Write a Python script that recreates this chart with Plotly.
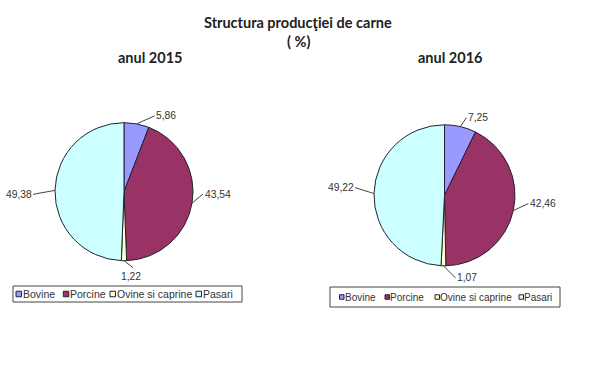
import math
import plotly.graph_objects as go

# ---- data ----
categories = ["Bovine", "Porcine", "Ovine si caprine", "Pasari"]
year_titles = ["anul 2015", "anul 2016"]
values_2015 = [5.86, 43.54, 1.22, 49.38]
values_2016 = [7.25, 42.46, 1.07, 49.22]
colors = ["#9999FF", "#993366", "#FFFFCC", "#CCFFFF"]
main_title = "Structura producţiei de carne"
sub_title = "( %)"

# the page body margin is removed (post_script below), so the figure fills the window
OFF = 0
W, H = 600, 371


def X(px):
    return (px - OFF) / W


def Y(py):
    return 1 - (py - OFF) / H


# layout / style (pixel positions of pies, leader-line offsets, legend boxes)
layouts = [
    dict(values=values_2015, cx=124, cy=191.7, r=69, tx=150,
         label_offsets=[(18, -8, "left"), (11, -9, "left"), (9, 7, "below"), (-22, 4, "right")],
         box=(13, 242, 286, 302), sq=[16, 63.3, 110, 196], sqsize=5.5, gap=6.5, ly=294,
         legend_font=10.5),
    dict(values=values_2016, cx=444.5, cy=195.3, r=70.5, tx=450,
         label_offsets=[(6, -9, "left"), (15, -7, "left"), (12, 12, "left"), (-19, -6, "right")],
         box=(330, 560, 287, 307), sq=[339.5, 385, 435, 519], sqsize=4.5, gap=5, ly=297,
         legend_font=10),
]

fig = go.Figure()
shapes = []
annotations = []

LABEL_FONT = dict(family="Liberation Sans, Arial, sans-serif", size=10.3, color="#333333")
TITLE_FONT = dict(family="Lato, Open Sans, sans-serif", size=14.5, color="#222222")
LEADER = dict(color="#444444", width=1)

for i, L in enumerate(layouts):
    vals = L["values"]
    cx, cy, r = L["cx"], L["cy"], L["r"]
    fig.add_trace(go.Pie(
        labels=categories, values=vals, sort=False, direction="clockwise", rotation=0,
        marker=dict(colors=colors, line=dict(color="#222233", width=1)),
        textinfo="none", showlegend=False, hoverinfo="label+value",
        domain=dict(x=[X(cx - r), X(cx + r)], y=[Y(cy + r), Y(cy - r)]),
    ))
    total = sum(vals)
    cum = 0.0
    for k, v in enumerate(vals):
        mid = (cum + v / 2) / total
        cum += v
        ang = 2 * math.pi * mid
        e = (cx + r * math.sin(ang), cy - r * math.cos(ang))
        ox, oy, mode = L["label_offsets"][k]
        p = (e[0] + ox, e[1] + oy)
        txt = f"{v:.2f}".replace(".", ",")
        shapes.append(dict(type="line", xref="paper", yref="paper",
                           x0=X(e[0]), y0=Y(e[1]), x1=X(p[0]), y1=Y(p[1]), line=LEADER))
        if mode == "below":
            annotations.append(dict(x=X(p[0] - 2), y=Y(p[1] + 3), xref="paper", yref="paper",
                                    text=txt, showarrow=False, xanchor="center", yanchor="top",
                                    borderpad=0, borderwidth=0, font=LABEL_FONT))
        else:
            side = 1 if mode == "left" else -1
            annotations.append(dict(x=X(p[0] + side * 1.5), y=Y(p[1]), xref="paper", yref="paper",
                                    text=txt, showarrow=False, xanchor=mode, yanchor="middle",
                                    borderpad=0, borderwidth=0, font=LABEL_FONT))
    # year title
    annotations.append(dict(x=X(L["tx"]), y=Y(57.5), xref="paper", yref="paper",
                            text=f"<b>{year_titles[i]}</b>", showarrow=False,
                            xanchor="center", yanchor="middle", font=TITLE_FONT))
    # legend box
    x0, x1, y0, y1 = L["box"]
    shapes.append(dict(type="rect", xref="paper", yref="paper",
                       x0=X(x0), x1=X(x1), y0=Y(y1), y1=Y(y0),
                       line=dict(color="#444444", width=1), fillcolor="white", layer="below"))
    sz = L["sqsize"]
    for j, cat in enumerate(categories):
        sx = L["sq"][j]
        ly = L["ly"]
        shapes.append(dict(type="rect", xref="paper", yref="paper",
                           x0=X(sx), x1=X(sx + sz), y0=Y(ly + sz / 2), y1=Y(ly - sz / 2),
                           line=dict(color="#222233", width=1), fillcolor=colors[j]))
        annotations.append(dict(x=X(sx + L["gap"]), y=Y(ly), xref="paper", yref="paper",
                                text=cat, showarrow=False, xanchor="left", yanchor="middle",
                                borderpad=0, borderwidth=0,
                                font=dict(family="Liberation Sans, Arial, sans-serif",
                                          size=L["legend_font"], color="#333333")))

annotations.append(dict(x=X(298), y=Y(22), xref="paper", yref="paper",
                        text=f"<b>{main_title}</b>", showarrow=False,
                        xanchor="center", yanchor="middle", font=TITLE_FONT))
annotations.append(dict(x=X(298), y=Y(41.5), xref="paper", yref="paper",
                        text=f"<b>{sub_title}</b>", showarrow=False,
                        xanchor="center", yanchor="middle", font=TITLE_FONT))

fig.update_layout(
    width=W, height=H, autosize=False,
    margin=dict(l=0, r=0, t=0, b=0),
    paper_bgcolor="white", plot_bgcolor="white",
    shapes=shapes, annotations=annotations,
)

fig.write_html("out.html", config={"displayModeBar": False},
               post_script="document.body.style.margin='0px';")
